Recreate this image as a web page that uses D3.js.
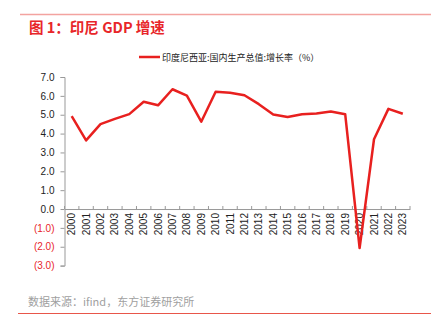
<!DOCTYPE html>
<html><head><meta charset="utf-8">
<script src="https://cdn.jsdelivr.net/npm/d3@7/dist/d3.min.js"></script>
<style>body{margin:0;background:#fff;}svg{display:block;font-family:"Liberation Sans","Noto Sans CJK SC",sans-serif;}</style>
</head><body>
<svg id="c" width="442" height="327"></svg>
<script>
const years = ["2000","2001","2002","2003","2004","2005","2006","2007","2008","2009","2010","2011","2012","2013","2014","2015","2016","2017","2018","2019","2020","2021","2022","2023"];
const growth = [4.92,3.64,4.50,4.78,5.03,5.69,5.50,6.35,6.01,4.63,6.22,6.17,6.03,5.56,5.01,4.88,5.03,5.07,5.17,5.02,-2.07,3.70,5.31,5.05];
const yTicks = [7,6,5,4,3,2,1,0,-1,-2,-3];
const seriesName = "印度尼西亚:国内生产总值:增长率（%）";
const titleText = "图 1：印尼 GDP 增速";
const sourceText = "数据来源：ifind，东方证券研究所";

(function(){
const svg = d3.select("#c");
const mL = 64.5, mR = 410, mT = 77, mB = 265.6;
const x = d3.scaleBand().domain(years).range([mL, mR]);
const y = d3.scaleLinear().domain([-3, 7]).range([mB, mT]);

svg.append("line").attr("x1",20).attr("x2",431).attr("y1",14.5).attr("y2",14.5).attr("stroke","#f3a3a0").attr("stroke-width",1.5);
svg.append("text").attr("x",29).attr("y",33).attr("fill","#e8262a").attr("font-size",14.5).attr("font-weight","bold")
  .attr("font-family","'Noto Sans CJK SC',sans-serif").text(titleText);

// legend
svg.append("line").attr("x1",139).attr("x2",160).attr("y1",57).attr("y2",57).attr("stroke","#e8201f").attr("stroke-width",2.5);
svg.append("text").attr("x",162).attr("y",60.5).attr("font-size",9).attr("fill","#222")
  .attr("font-family","'Noto Sans CJK SC',sans-serif").text(seriesName);

// y axis
const yAxis = d3.axisLeft(y).tickValues(yTicks).tickSize(4)
  .tickFormat(d => d < 0 ? "(" + Math.abs(d).toFixed(1) + ")" : d.toFixed(1));
const gy = svg.append("g").attr("transform",`translate(${mL},0)`).call(yAxis);
gy.select(".domain").attr("stroke","#999");
gy.selectAll(".tick line").attr("stroke","#999");
gy.selectAll(".tick text").attr("font-size",10).attr("x",-10)
  .attr("fill", d => d < 0 ? "#e8262a" : "#222");

// x axis at zero
const gx = svg.append("g").attr("transform",`translate(0,${y(0)})`)
  .call(d3.axisBottom(x).tickSize(0));
gx.select(".domain").attr("stroke","#999");
gx.selectAll(".tick text").attr("font-size",10).attr("fill","#222")
  .attr("transform","rotate(-90)").attr("text-anchor","end").attr("x",-4).attr("y",0).attr("dy","0.35em");
const bounds = years.map(d => x(d)).concat([mR]);
gx.selectAll(".bt").data(bounds).enter().append("line").attr("class","bt")
  .attr("x1",d=>d).attr("x2",d=>d).attr("y1",0).attr("y2",-3).attr("stroke","#999");

const line = d3.line().x((d,i)=>x(years[i]) + x.bandwidth()/2).y(d=>y(d));
svg.append("path").datum(growth).attr("d",line).attr("fill","none").attr("stroke","#e8201f").attr("stroke-width",2.5).attr("stroke-linejoin","round");

svg.append("text").attr("x",28).attr("y",306).attr("font-size",11).attr("fill","#a0a0a0")
  .attr("font-family","'Noto Sans CJK SC',sans-serif").text(sourceText);
svg.append("line").attr("x1",18).attr("x2",431).attr("y1",313.5).attr("y2",313.5).attr("stroke","#e8564a").attr("stroke-width",1);
})();
</script>
</body></html>
